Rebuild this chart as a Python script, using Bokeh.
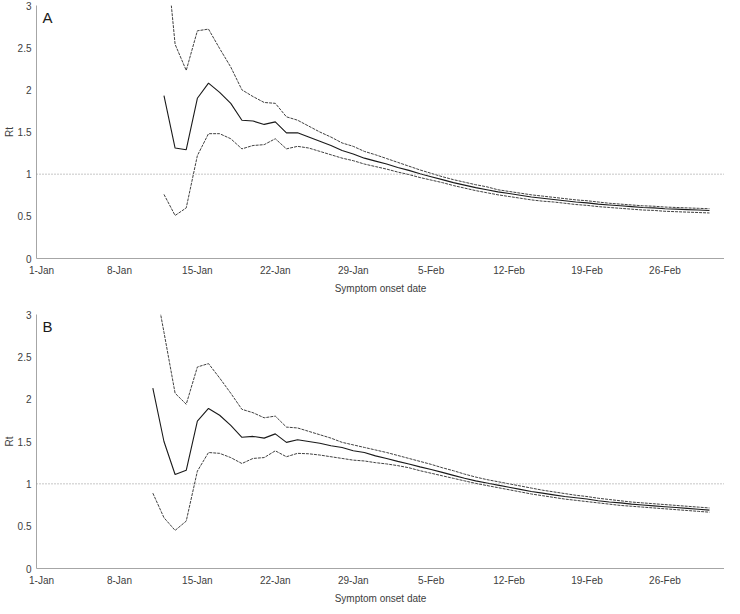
import pandas as pd
from bokeh.plotting import figure
from bokeh.layouts import column
from bokeh.models import Range1d, FixedTicker, Span, Label
from bokeh.embed import file_html
from bokeh.resources import INLINE

# ---------------- data ----------------
origin = pd.Timestamp("2020-01-01")
tick_dates = ["2020-01-01", "2020-01-08", "2020-01-15", "2020-01-22", "2020-01-29",
              "2020-02-05", "2020-02-12", "2020-02-19", "2020-02-26"]
tick_labels = ["1-Jan", "8-Jan", "15-Jan", "22-Jan", "29-Jan", "5-Feb", "12-Feb", "19-Feb", "26-Feb"]
y_ticks = [0, 0.5, 1, 1.5, 2, 2.5, 3]
y_tick_labels = ["0", "0.5", "1", "1.5", "2", "2.5", "3"]
threshold = 1

a_start = "2020-01-12"
a_upper = [3.9, 2.54, 2.23, 2.70, 2.72, 2.49, 2.27, 2.00, 1.92, 1.85,
           1.84, 1.68, 1.64, 1.57, 1.50, 1.44, 1.37, 1.33, 1.27, 1.23,
           1.185, 1.14, 1.095, 1.05, 1.01, 0.97, 0.935, 0.905, 0.875, 0.85,
           0.815, 0.795, 0.775, 0.755, 0.74, 0.725, 0.71, 0.695, 0.685, 0.67,
           0.655, 0.645, 0.635, 0.625, 0.62, 0.61, 0.605, 0.60, 0.595, 0.59]
a_mean = [1.93, 1.31, 1.29, 1.90, 2.08, 1.97, 1.84, 1.64, 1.63, 1.59,
          1.62, 1.49, 1.49, 1.44, 1.39, 1.34, 1.28, 1.24, 1.19, 1.155,
          1.12, 1.08, 1.045, 1.005, 0.97, 0.935, 0.90, 0.87, 0.84, 0.815,
          0.79, 0.77, 0.75, 0.73, 0.715, 0.70, 0.685, 0.67, 0.66, 0.645,
          0.635, 0.625, 0.615, 0.605, 0.60, 0.59, 0.585, 0.58, 0.575, 0.57]
a_lower = [0.76, 0.51, 0.60, 1.22, 1.48, 1.48, 1.42, 1.30, 1.34, 1.35,
           1.42, 1.30, 1.33, 1.31, 1.27, 1.23, 1.19, 1.16, 1.12, 1.09,
           1.06, 1.025, 0.995, 0.96, 0.93, 0.90, 0.865, 0.835, 0.805, 0.78,
           0.755, 0.735, 0.715, 0.695, 0.68, 0.67, 0.655, 0.64, 0.63, 0.615,
           0.605, 0.595, 0.585, 0.575, 0.57, 0.56, 0.555, 0.55, 0.545, 0.54]

b_start = "2020-01-11"
b_upper = [3.5, 2.79, 2.07, 1.94, 2.38, 2.42, 2.25, 2.07, 1.88, 1.84,
           1.78, 1.80, 1.67, 1.66, 1.62, 1.58, 1.54, 1.49, 1.46, 1.43,
           1.40, 1.37, 1.335, 1.30, 1.265, 1.23, 1.19, 1.155, 1.115, 1.08,
           1.05, 1.025, 1.00, 0.975, 0.95, 0.925, 0.905, 0.885, 0.865, 0.85,
           0.83, 0.815, 0.80, 0.785, 0.775, 0.765, 0.755, 0.745, 0.735, 0.725, 0.715]
b_mean = [2.13, 1.50, 1.11, 1.16, 1.74, 1.89, 1.81, 1.69, 1.55, 1.56,
          1.54, 1.59, 1.49, 1.52, 1.50, 1.48, 1.45, 1.43, 1.39, 1.37,
          1.33, 1.30, 1.265, 1.235, 1.20, 1.17, 1.135, 1.10, 1.065, 1.035,
          1.01, 0.985, 0.96, 0.935, 0.91, 0.89, 0.87, 0.85, 0.835, 0.82,
          0.80, 0.785, 0.775, 0.76, 0.75, 0.74, 0.73, 0.72, 0.71, 0.70, 0.69]
b_lower = [0.89, 0.60, 0.45, 0.56, 1.15, 1.37, 1.36, 1.31, 1.24, 1.30,
           1.31, 1.39, 1.32, 1.36, 1.355, 1.34, 1.32, 1.30, 1.28, 1.27,
           1.25, 1.235, 1.215, 1.19, 1.155, 1.125, 1.095, 1.065, 1.035, 1.005,
           0.98, 0.955, 0.93, 0.905, 0.88, 0.86, 0.84, 0.82, 0.805, 0.79,
           0.775, 0.76, 0.745, 0.735, 0.725, 0.715, 0.705, 0.695, 0.685, 0.675, 0.665]

FONT = "Liberation Sans"
TXT = "#404040"


def day_index(start, n):
    return [int(d) for d in (pd.date_range(start, periods=n) - origin).days]


tick_pos = [int((pd.Timestamp(d) - origin).days) for d in tick_dates]


def panel(letter, start, upper, mean, lower, height, top, bottom):
    p = figure(width=724, height=height, x_range=Range1d(-0.45, 61.35), y_range=Range1d(0, 3),
               output_backend="svg", toolbar_location=None,
               min_border_top=top, min_border_bottom=bottom, min_border_left=0, min_border_right=0)
    p.xgrid.visible = False
    p.ygrid.visible = False
    p.outline_line_color = None
    p.background_fill_color = "white"
    p.border_fill_color = "white"

    p.xaxis.ticker = FixedTicker(ticks=tick_pos)
    p.xaxis.major_label_overrides = {k: v for k, v in zip(tick_pos, tick_labels)}
    p.yaxis.ticker = FixedTicker(ticks=y_ticks)
    p.yaxis.major_label_overrides = {k: v for k, v in zip(y_ticks, y_tick_labels)}
    for ax in (p.xaxis, p.yaxis):
        ax.major_tick_out = 0
        ax.major_tick_in = 0
        ax.minor_tick_out = 0
        ax.minor_tick_in = 0
        ax.axis_line_color = "#a6a6a6"
        ax.axis_line_width = 1
        ax.major_label_text_font = FONT
        ax.major_label_text_font_size = "10px"
        ax.major_label_text_color = TXT
        ax.axis_label_text_font = FONT
        ax.axis_label_text_font_size = "10px"
        ax.axis_label_text_font_style = "normal"
        ax.axis_label_text_color = TXT
    p.xaxis.axis_label = "Symptom onset date"
    p.xaxis.major_label_standoff = 6
    p.xaxis.axis_label_standoff = 4
    p.yaxis.axis_label = "Rt"
    p.yaxis.major_label_standoff = 5
    p.yaxis.axis_label_standoff = 0

    p.add_layout(Span(location=threshold, dimension="width", line_color="#8c8c8c",
                      line_dash="1 2", line_width=1))

    x = day_index(start, len(mean))
    p.line(x, upper, line_color="#404040", line_width=1, line_dash="3 1")
    p.line(x, lower, line_color="#404040", line_width=1, line_dash="3 1")
    p.line(x, mean, line_color="#1a1a1a", line_width=1.1)

    p.add_layout(Label(x=0.1, y=2.96, text=letter, text_font=FONT, text_font_size="15px",
                       text_color="#1a1a1a", text_baseline="top", text_align="left"))
    return p


pA = panel("A", a_start, a_upper, a_mean, a_lower, height=296, top=5, bottom=38)
pB = panel("B", b_start, b_upper, b_mean, b_lower, height=310, top=18, bottom=38)

layout = column(pA, pB, spacing=0)
open("out.html", "w").write(file_html(layout, INLINE))
